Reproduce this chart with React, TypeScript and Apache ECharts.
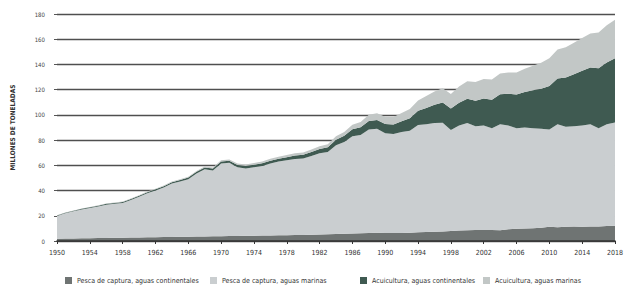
import React, { useEffect, useRef } from "react";
import * as echarts from "echarts";

const years: string[] = [];
for (let y = 1950; y <= 2018; y++) years.push(String(y));

const yTicks = [0, 20, 40, 60, 80, 100, 120, 140, 160, 180];

const seriesNames = [
  "Pesca de captura, aguas continentales",
  "Pesca de captura, aguas marinas",
  "Acuicultura, aguas continentales",
  "Acuicultura, aguas marinas",
];

// 1950..2018, millones de toneladas
const captureInland = [
  1.8, 1.9, 2.0, 2.1, 2.2, 2.3, 2.4, 2.5, 2.6, 2.7,
  2.8, 2.9, 3.0, 3.1, 3.2, 3.3, 3.4, 3.5, 3.6, 3.7,
  3.8, 3.9, 4.0, 4.1, 4.2, 4.3, 4.4, 4.5, 4.6, 4.7,
  4.8, 5.0, 5.1, 5.3, 5.5, 5.8, 6.0, 6.2, 6.4, 6.5,
  6.4, 6.3, 6.4, 6.6, 7.0, 7.2, 7.4, 7.6, 8.0, 8.4,
  8.6, 8.7, 8.7, 8.8, 8.6, 9.4, 9.8, 10.0, 10.2, 10.5,
  11.3, 10.9, 11.3, 11.4, 11.3, 11.4, 11.5, 11.9, 12.0,
];

const captureMarine = [
  18.0, 20.1, 21.5, 22.9, 24.0, 25.1, 26.4, 27.0, 27.6, 29.8,
  32.2, 34.9, 37.0, 39.4, 42.3, 43.9, 45.6, 50.0, 53.2, 52.3,
  57.7, 58.1, 54.5, 53.4, 54.3, 55.2, 57.1, 58.5, 59.4, 60.3,
  60.7, 62.5, 64.4, 65.2, 70.5, 72.7, 77.0, 77.8, 82.1, 82.5,
  79.1, 78.5, 80.1, 80.9, 85.0, 85.3, 86.1, 86.2, 80.0, 83.1,
  84.9, 82.3, 82.8, 80.7, 83.9, 82.1, 79.7, 80.0, 79.3, 78.5,
  77.2, 81.6, 79.2, 79.6, 80.2, 81.1, 78.0, 80.6, 82.0,
];

const aquaInland = [
  0.4, 0.4, 0.5, 0.5, 0.5, 0.6, 0.7, 0.7, 0.8, 0.8,
  0.9, 0.9, 1.0, 1.0, 1.1, 1.2, 1.3, 1.4, 1.5, 1.5,
  1.6, 1.7, 1.8, 1.9, 2.0, 2.1, 2.2, 2.3, 2.5, 2.7,
  2.8, 3.1, 3.4, 3.8, 4.3, 4.9, 5.6, 6.2, 6.7, 7.0,
  7.2, 7.6, 8.5, 9.8, 11.2, 12.9, 14.5, 16.1, 17.0, 18.2,
  19.2, 20.3, 21.4, 22.5, 23.9, 25.2, 26.6, 28.1, 30.0, 31.8,
  34.4, 36.3, 39.2, 41.2, 43.5, 45.0, 47.4, 49.0, 51.0,
];

const aquaMarine = [
  0.2, 0.2, 0.2, 0.3, 0.3, 0.3, 0.3, 0.3, 0.4, 0.4,
  0.4, 0.5, 0.5, 0.5, 0.6, 0.6, 0.7, 0.7, 0.8, 0.8,
  0.9, 1.0, 1.1, 1.2, 1.3, 1.4, 1.5, 1.6, 1.7, 1.8,
  1.9, 2.0, 2.2, 2.4, 2.7, 3.0, 3.6, 4.2, 4.9, 5.3,
  5.8, 6.0, 6.5, 7.3, 8.3, 9.5, 10.5, 11.2, 11.5, 12.8,
  14.0, 14.8, 15.5, 16.0, 16.5, 17.0, 17.5, 18.5, 19.5, 20.5,
  22.0, 23.0, 24.0, 25.0, 26.0, 27.0, 28.5, 29.5, 30.5,
];

const seriesData = [captureInland, captureMarine, aquaInland, aquaMarine];
const colors = ["#6f7473", "#caced0", "#3f5a51", "#c2c7c6"];
const legendLeft = [60, 205, 355, 478];

const FONT = "'Liberation Sans Narrow', 'DejaVu Sans Condensed', 'Roboto', sans-serif";

export default function App() {
  const ref = useRef<HTMLDivElement>(null);
  useEffect(() => {
    document.body.style.margin = "0";
    if (!ref.current) return;
    const chart = echarts.init(ref.current, undefined, { renderer: "svg" });
    chart.setOption({
      animation: false,
      backgroundColor: "#ffffff",
      textStyle: { fontFamily: FONT },
      grid: { left: 57, right: 8, top: 14, bottom: 59, containLabel: false },
      legend: seriesNames.map((n, i) => ({
        data: [n],
        left: legendLeft[i],
        top: 272,
        itemWidth: 7,
        itemHeight: 7,
        itemGap: 4,
        icon: "rect",
        textStyle: { fontSize: 7, color: "#333", fontFamily: FONT },
        selectedMode: false,
      })),
      xAxis: {
        type: "category",
        data: years,
        boundaryGap: false,
        axisLine: { lineStyle: { color: "#333", width: 1.5 } },
        axisTick: { show: true, interval: 3, length: 3, lineStyle: { color: "#333" } },
        axisLabel: { interval: 3, fontSize: 7, color: "#333", margin: 8, fontFamily: FONT },
        splitLine: { show: false },
        z: 10,
      },
      yAxis: {
        type: "value",
        min: 0,
        max: 180,
        interval: 20,
        name: "MILLONES DE TONELADAS",
        nameLocation: "middle",
        nameGap: 41,
        nameRotate: 90,
        nameTextStyle: { fontSize: 6.5, fontWeight: "bold", color: "#333", fontFamily: FONT },
        axisLine: { show: false },
        axisTick: { show: true, length: 3, lineStyle: { color: "#555" } },
        axisLabel: {
          fontSize: 6,
          color: "#444",
          margin: 12,
          fontFamily: FONT,
          formatter: (v: number) => (yTicks.includes(v) ? String(v) : ""),
        },
        splitLine: { show: true, lineStyle: { color: "#4f4f4f", width: 1.4 } },
      },
      series: seriesNames.map((n, i) => ({
        name: n,
        type: "line",
        stack: "total",
        data: seriesData[i],
        symbol: "none",
        showSymbol: false,
        lineStyle: { width: 0 },
        itemStyle: { color: colors[i] },
        areaStyle: { color: colors[i], opacity: 1 },
        z: 2,
      })),
    });
    return () => chart.dispose();
  }, []);
  return <div ref={ref} style={{ width: 626, height: 300 }} />;
}
